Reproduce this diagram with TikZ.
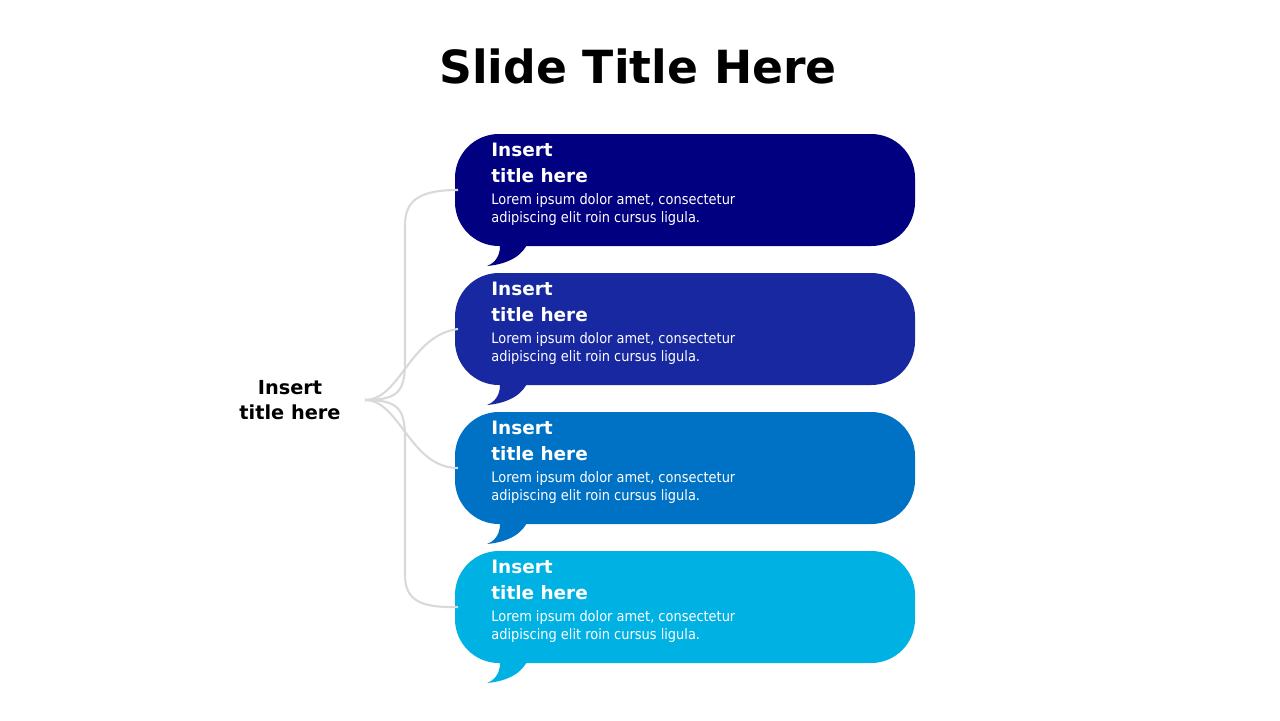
\documentclass[tikz,border=0pt]{standalone}
\usepackage{fontspec}
\setmainfont{DejaVu Sans}
\newfontfamily\condfont{DejaVu Sans Condensed}
\definecolor{bubA}{HTML}{000080}
\definecolor{bubB}{HTML}{1728A0}
\definecolor{bubC}{HTML}{0072C6}
\definecolor{bubD}{HTML}{00B2E3}
\definecolor{wire}{HTML}{D9D9D9}
\tikzset{
  bubbletext/.style={anchor=north west, text=white, align=left, inner sep=0pt},
  wirelink/.style={draw=wire, line width=1.2pt}
}
\begin{document}
\begin{tikzpicture}[x=0.02cm,y=-0.02cm]
    \useasboundingbox (0,0) rectangle (1280,720);
    \node[font=\bfseries\fontsize{26}{30}\selectfont] (title) at (638,66) {Slide Title Here};
    \node[font=\bfseries\fontsize{11}{14}\selectfont, align=center] (hub) at (290,400) {Insert\\title here};
    \coordinate (hubend) at (365,400);
    \foreach \i/\col/\top in {1/bubA/134, 2/bubB/273, 3/bubC/412, 4/bubD/551} {
        \fill[\col, rounded corners=25] (455,\top) rectangle (915,\top+112);
        \fill[\col] (500,\top+108) -- (500,\top+112) .. controls (500,\top+122) and (495,\top+129) .. (487,\top+132)
            .. controls (510,\top+130) and (524,\top+120) .. (528,\top+108) -- cycle;
        \node[bubbletext, font=\bfseries\fontsize{10.5}{14.5}\selectfont] (head\i) at (491,\top+9) {Insert\\title here};
        \node[bubbletext, font=\condfont\fontsize{8.2}{10.5}\selectfont] (body\i) at (491,\top+59) {Lorem ipsum dolor amet, consectetur\\adipiscing elit roin cursus ligula.};
        \coordinate (dock\i) at (458,\top+56);
    }
    \draw[wirelink] (hubend) .. controls (400,400) and (405,390) .. (405,360) -- (405,225)
        .. controls (405,200) and (420,190) .. (dock1);
    \draw[wirelink] (hubend) .. controls (400,400) and (410,335) .. (dock2);
    \draw[wirelink] (hubend) .. controls (400,400) and (410,468) .. (dock3);
    \draw[wirelink] (hubend) .. controls (400,400) and (405,410) .. (405,440) -- (405,575)
        .. controls (405,600) and (420,608) .. (dock4);
\end{tikzpicture}
\end{document}
